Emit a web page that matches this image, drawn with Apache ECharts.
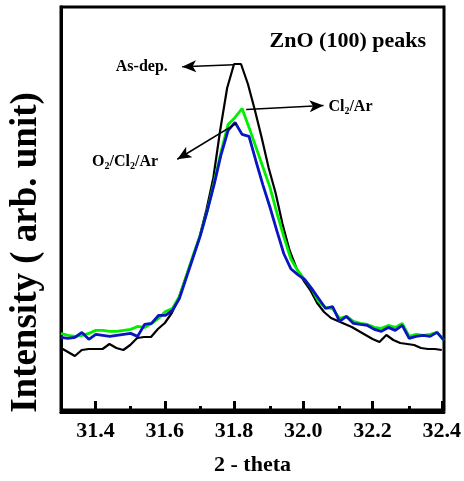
<!DOCTYPE html>
<html>
<head>
<meta charset="utf-8">
<title>ZnO (100) peaks</title>
<script src="https://cdn.jsdelivr.net/npm/echarts@6/dist/echarts.min.js"></script>
<style>
  html, body { margin: 0; padding: 0; background: #fff; }
  .layer { position: absolute; left: 0; top: 0; width: 464px; height: 481px; }
</style>
</head>
<body>
<div class="layer" id="major"></div>
<div class="layer" id="minor"></div>
<div class="layer" id="chart"></div>
<script>
// 2-theta scan positions (deg), 0.02 deg steps
const twoTheta = [];
for (let i = 0; i < 56; i++) twoTheta.push(+(31.30 + 0.02 * i).toFixed(2));

// Intensity (arb. unit) for each treatment
const asDep = [64, 60, 56, 62, 63, 63, 63, 68, 64, 62, 67, 74, 75, 75, 83, 89,
  99, 114, 134, 154, 175, 202, 234, 282, 324, 348, 348, 328, 302, 274, 244, 219,
  188, 162, 144, 132, 122, 109, 100, 94, 91, 88, 85, 81, 77, 73, 70, 77, 72, 69,
  68, 67, 64, 63, 63, 62];
const cl2Ar = [77, 75, 74, 75, 77, 80, 80, 79, 79, 80, 81, 84, 83, 87, 92, 99,
  102, 114, 135, 156, 176, 200, 229, 260, 287, 294, 303, 284, 264, 244, 224, 198,
  174, 152, 140, 131, 122, 109, 103, 102, 92, 94, 89, 87, 86, 83, 82, 85, 83, 87,
  74, 76, 75, 76, 78, 70];
const o2Cl2Ar = [73, 72, 73, 78, 71, 76, 75, 74, 75, 76, 77, 74, 86, 87, 95, 95,
  100, 112, 133, 154, 175, 200, 227, 257, 281, 289, 277, 275, 250, 226, 204, 180,
  157, 142, 136, 131, 122, 112, 102, 104, 89, 94, 87, 86, 85, 81, 79, 83, 80, 85,
  72, 74, 75, 74, 78, 70];

// Axis ticks and labels
const majorTicks = [31.4, 31.6, 31.8, 32.0, 32.2, 32.4];
const minorTicks = [31.5, 31.7, 31.9, 32.1, 32.3];

const serif = 'Liberation Serif';
const pairs = ys => twoTheta.map((x, i) => [x, ys[i]]);
const gridBox = () => ({ left: 61, right: 20, top: 7, bottom: 69 });
const frameLine = () => ({ show: true, onZero: false, lineStyle: { color: '#000', width: 3 } });
const hidden = () => ({ show: false });
const tickLabel = (values, color) => ({
  customValues: values, margin: 8,
  formatter: v => v.toFixed(1),
  fontFamily: serif, fontWeight: 'bold', fontSize: 22, color: color
});

// Layer 1: bottom/left axis lines, long ticks, tick labels, as-deposited scan
echarts.init(document.getElementById('major')).setOption({
  animation: false,
  grid: gridBox(),
  xAxis: {
    type: 'value', min: 31.3, max: 32.4, position: 'bottom',
    axisLine: frameLine(),
    axisTick: { show: true, inside: true, length: 11, lineStyle: { color: '#000', width: 3 }, customValues: majorTicks },
    axisLabel: tickLabel(majorTicks, '#000'),
    splitLine: hidden()
  },
  yAxis: {
    type: 'value', min: 0, max: 405, position: 'left',
    axisLine: frameLine(), axisTick: hidden(), axisLabel: hidden(), splitLine: hidden()
  },
  series: [{
    name: 'As-dep.', type: 'line', data: pairs(asDep), showSymbol: false,
    lineStyle: { color: '#000', width: 2.2 }
  }]
});

// Layer 2: short ticks between the labelled ones
echarts.init(document.getElementById('minor')).setOption({
  animation: false,
  grid: gridBox(),
  xAxis: {
    type: 'value', min: 31.3, max: 32.4, position: 'bottom',
    axisLine: frameLine(),
    axisTick: { show: true, inside: true, length: 6, lineStyle: { color: '#000', width: 3 }, customValues: minorTicks },
    axisLabel: tickLabel(minorTicks, 'rgba(0,0,0,0)'),
    splitLine: hidden()
  },
  yAxis: {
    type: 'value', min: 0, max: 405, position: 'left',
    axisLine: frameLine(), axisTick: hidden(), axisLabel: hidden(), splitLine: hidden()
  },
  series: []
});

// Layer 3: frame, treated scans, axis titles, heading and arrow notes
const arrowStyle = { color: '#000', width: 1.6, type: 'solid' };
const noteRich = {
  a: { fontFamily: serif, fontWeight: 'bold', fontSize: 16, color: '#000' },
  s: { fontFamily: serif, fontWeight: 'bold', fontSize: 10, color: '#000', padding: [9, 0, 0, 0] }
};
const arrowLine = (from, to) => [{ coord: from }, { coord: to }];
const notePoint = (coord, text, align) => ({
  coord: coord,
  label: {
    show: true, position: 'inside', align: align, verticalAlign: 'middle',
    formatter: text, rich: noteRich,
    color: '#000', fontFamily: serif, fontWeight: 'bold', fontSize: 16
  }
});
const markLines = data => ({
  silent: true, symbol: ['none', 'arrow'], symbolSize: [9, 14],
  lineStyle: arrowStyle, label: { show: false }, emphasis: { disabled: true }, data: data
});
const markPoints = data => ({
  silent: true, symbol: 'circle', symbolSize: 1,
  itemStyle: { color: 'rgba(0,0,0,0)' }, data: data
});

echarts.init(document.getElementById('chart')).setOption({
  animation: false,
  title: {
    text: 'ZnO (100) peaks',
    right: 33, top: 25,
    textStyle: { fontFamily: serif, fontWeight: 'bold', fontSize: 22, color: '#000' }
  },
  grid: Object.assign(gridBox(), {
    show: true, borderColor: '#000', borderWidth: 3, backgroundColor: 'rgba(0,0,0,0)'
  }),
  xAxis: {
    type: 'value', min: 31.3, max: 32.4,
    name: '2 - theta', nameLocation: 'middle', nameGap: 44,
    nameTextStyle: { fontFamily: serif, fontWeight: 'bold', fontSize: 22, color: '#000' },
    axisLine: { show: false, onZero: false }, axisTick: hidden(), axisLabel: hidden(), splitLine: hidden()
  },
  yAxis: {
    type: 'value', min: 0, max: 405,
    name: 'Intensity ( arb. unit)', nameLocation: 'middle', nameGap: 16,
    nameTextStyle: { fontFamily: serif, fontWeight: 'bold', fontSize: 37, color: '#000', padding: [0, 88, 0, 0] },
    axisLine: hidden(), axisTick: hidden(), axisLabel: hidden(), splitLine: hidden()
  },
  series: [{
    name: 'Cl2/Ar', type: 'line', data: pairs(cl2Ar), showSymbol: false,
    lineStyle: { color: '#00ee00', width: 2.8 },
    markLine: markLines([
      arrowLine([31.797, 347], [31.648, 345]),
      arrowLine([31.832, 302], [32.054, 306])
    ]),
    markPoint: markPoints([
      notePoint([31.532, 345], 'As-dep.', 'center'),
      notePoint([32.068, 305], '{a|Cl}{s|2}{a|/Ar}', 'left')
    ])
  }, {
    name: 'O2/Cl2/Ar', type: 'line', data: pairs(o2Cl2Ar), showSymbol: false,
    lineStyle: { color: '#0a14c0', width: 2.8 },
    markLine: markLines([arrowLine([31.804, 288], [31.634, 252])]),
    markPoint: markPoints([notePoint([31.484, 249], '{a|O}{s|2}{a|/Cl}{s|2}{a|/Ar}', 'center')])
  }]
});
</script>
</body>
</html>
